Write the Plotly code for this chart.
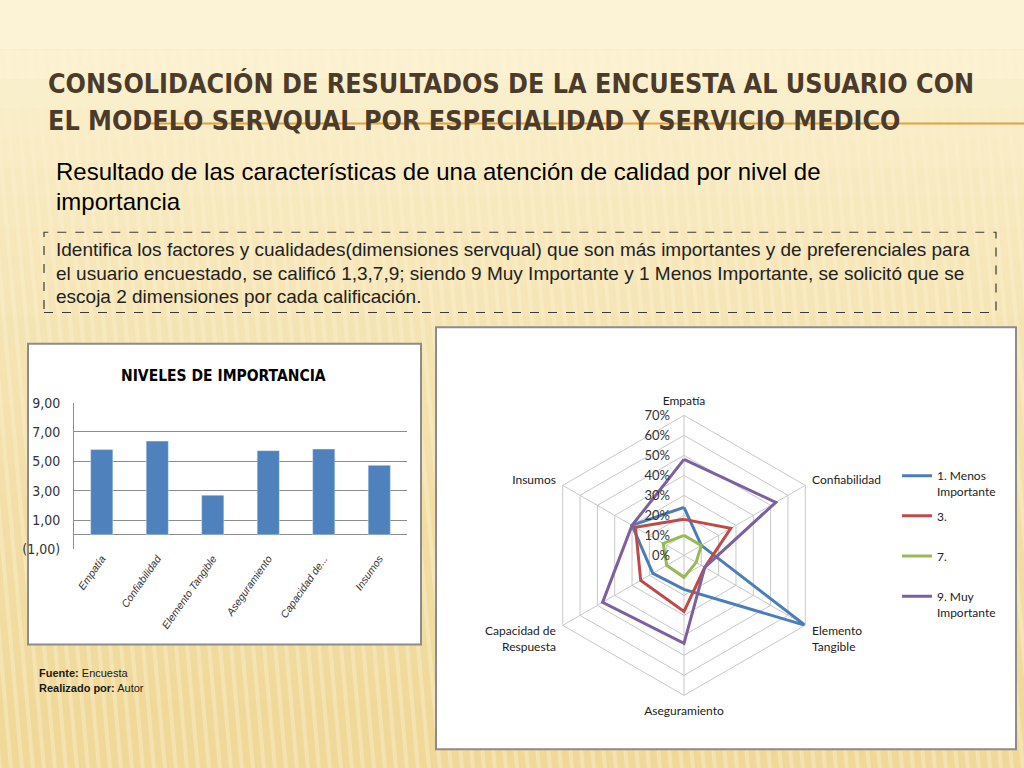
import plotly.graph_objects as go

# ---------------- data ----------------
bar_categories = ["Empatía", "Confiabilidad", "Elemento Tangible", "Aseguramiento", "Capacidad de...", "Insumos"]
bar_values = [5.80, 6.38, 2.70, 5.73, 5.84, 4.73]
bar_tickvals = [-1, 1, 3, 5, 7, 9]
bar_ticktext = ["(1,00)", "1,00", "3,00", "5,00", "7,00", "9,00"]

radar_categories = ["Empatía", "Confiabilidad", "Elemento<br>Tangible", "Aseguramiento",
                    "Capacidad de<br>Respuesta", "Insumos"]
serie_names = ["1. Menos<br>Importante", "3.<br> ", "7.<br> ", "9. Muy<br>Importante"]
serie_1 = [0.24, 0.10, 0.70, 0.17, 0.18, 0.30]
serie_3 = [0.18, 0.27, 0.12, 0.28, 0.25, 0.28]
serie_7 = [0.10, 0.10, 0.07, 0.11, 0.10, 0.12]
serie_9 = [0.48, 0.53, 0.12, 0.44, 0.47, 0.30]
radar_ticks = [0, 0.1, 0.2, 0.3, 0.4, 0.5, 0.6, 0.7]

W, H = 1024, 768
def px(x): return x / W
def py(y): return 1 - y / H

fig = go.Figure()

# ---------------- bar chart ----------------
fig.add_trace(go.Bar(
    x=bar_categories, y=bar_values, marker_color="#4f81bd", width=0.4,
    showlegend=False, xaxis="x", yaxis="y"))

# ---------------- radar chart ----------------
series = [serie_1, serie_3, serie_7, serie_9]
colors = ["#4a7ebb", "#be4b48", "#98b954", "#7d60a0"]
for i, (name, vals, col) in enumerate(zip(serie_names, series, colors)):
    fig.add_trace(go.Scatterpolar(
        r=vals + vals[:1], theta=radar_categories + radar_categories[:1],
        mode="lines", name=name, line=dict(color=col, width=3),
        legendgroup="g%d" % i, subplot="polar"))

# ---------------- background (decoration) ----------------
shapes = []
top_rgb = (252, 242, 210)
bot_rgb = (240, 216, 152)
steps = 24
shapes.append(dict(type="rect", xref="paper", yref="paper", x0=-0.05, x1=1.05,
                   y0=py(42), y1=py(-30), fillcolor="#fcf3d6", line_width=0, layer="below"))
for s in range(steps):
    y0 = 42 + (768 - 42) * s / steps
    y1 = 42 + (768 - 42) * (s + 1) / steps
    if s == steps - 1:
        y1 = 800
    t = (s / (steps - 1)) ** 0.7
    c = tuple(int(top_rgb[j] + (bot_rgb[j] - top_rgb[j]) * t) for j in range(3))
    shapes.append(dict(type="rect", xref="paper", yref="paper", x0=-0.05, x1=1.05,
                       y0=py(y1 + 1), y1=py(y0), fillcolor="rgb(%d,%d,%d)" % c,
                       line_width=0, layer="below"))
for k in range(-10, 110):
    x0 = k * 11
    shapes.append(dict(type="path", xref="paper", yref="paper",
                       path="M %f,%f L %f,%f L %f,%f L %f,%f Z" % (
                           px(x0), py(42), px(x0 + 4), py(42),
                           px(x0 + 4 + 66), py(800), px(x0 + 66), py(800)),
                       fillcolor="#fbf0cf", opacity=0.45, line_width=0, layer="below"))
shapes.append(dict(type="line", xref="paper", yref="paper", x0=px(150), x1=1,
                   y0=py(118), y1=py(118), line=dict(color="#e3a33c", width=2), layer="below"))
shapes.append(dict(type="rect", xref="paper", yref="paper", x0=px(44), x1=px(996),
                   y0=py(311), y1=py(229), line=dict(color="#3a3a3a", width=1.2, dash="dash"),
                   layer="below"))
shapes.append(dict(type="rect", xref="paper", yref="paper", x0=px(28), x1=px(421),
                   y0=py(650), y1=py(343), fillcolor="white",
                   line=dict(color="#8c8c8c", width=2), layer="below"))
shapes.append(dict(type="rect", xref="paper", yref="paper", x0=px(436), x1=px(1016),
                   y0=py(757), y1=py(326), fillcolor="white",
                   line=dict(color="#8c8c8c", width=2), layer="below"))

cond = "DejaVu Sans Condensed, Liberation Sans, Arial, sans-serif"
sans = "Liberation Sans, Arial, sans-serif"
annotations = [
    dict(text="CONSOLIDACIÓN DE RESULTADOS DE LA ENCUESTA AL USUARIO CON",
         x=px(46), y=py(77), xanchor="left", yanchor="middle",
         font=dict(family=cond, size=26.7, color="#4b3b2a", weight="bold")),
    dict(text="EL MODELO SERVQUAL POR ESPECIALIDAD Y SERVICIO MEDICO",
         x=px(46), y=py(115), xanchor="left", yanchor="middle",
         font=dict(family=cond, size=26.7, color="#4b3b2a", weight="bold")),
    dict(text="Resultado de las características de una atención de calidad por nivel de",
         x=px(54), y=py(167), xanchor="left", yanchor="middle",
         font=dict(family=sans, size=24, color="black")),
    dict(text="importancia",
         x=px(54), y=py(198), xanchor="left", yanchor="middle",
         font=dict(family=sans, size=24, color="black")),
    dict(text="Identifica los factores y cualidades(dimensiones servqual) que son más importantes y de preferenciales para",
         x=px(54), y=py(247), xanchor="left", yanchor="middle",
         font=dict(family=sans, size=19, color="#222222")),
    dict(text="el usuario encuestado, se calificó 1,3,7,9; siendo 9 Muy Importante y 1 Menos Importante, se solicitó que se",
         x=px(54), y=py(271), xanchor="left", yanchor="middle",
         font=dict(family=sans, size=19, color="#222222")),
    dict(text="escoja 2 dimensiones por cada calificación.",
         x=px(54), y=py(295), xanchor="left", yanchor="middle",
         font=dict(family=sans, size=19, color="#222222")),
    dict(text="NIVELES DE IMPORTANCIA",
         x=px(223), y=py(376), xanchor="center", yanchor="middle",
         font=dict(family=cond, size=15.5, color="black", weight="bold")),
    dict(text="<b>Fuente:</b> Encuesta",
         x=px(37), y=py(679), xanchor="left", yanchor="middle",
         font=dict(family=sans, size=11, color="#1a1a1a")),
    dict(text="<b>Realizado por:</b> Autor",
         x=px(37), y=py(694), xanchor="left", yanchor="middle",
         font=dict(family=sans, size=11, color="#1a1a1a")),
]
for a in annotations:
    a.update(xref="paper", yref="paper", showarrow=False)

calib = "Lato, Open Sans, sans-serif"
cx, cy, R = 684, 559, 143

fig.update_layout(
    width=W, height=H, margin=dict(l=0, r=0, t=0, b=0),
    paper_bgcolor="#f0d898", plot_bgcolor="rgba(0,0,0,0)",
    shapes=shapes, annotations=annotations,
    xaxis=dict(domain=[px(74), px(407)], anchor="y", showgrid=False,
               tickangle=-55, tickfont=dict(family=sans, size=10.5, color="#333333", style="italic"),
               showline=False, ticks=""),
    yaxis=dict(domain=[py(553), py(403)], anchor="x", range=[-1, 9],
               tickvals=bar_tickvals, ticktext=bar_ticktext,
               tickfont=dict(family=cond, size=14, color="#333333"),
               showgrid=True, gridcolor="#8c8c8c", gridwidth=1,
               zeroline=True, zerolinecolor="#8c8c8c", zerolinewidth=1,
               showline=True, linecolor="#8c8c8c",
               ticks="outside", ticklen=10, tickcolor="rgba(0,0,0,0)"),
    polar=dict(
        domain=dict(x=[px(cx - R), px(cx + R)], y=[py(cy + R), py(cy - R)]),
        bgcolor="white", gridshape="linear",
        radialaxis=dict(range=[0, 0.7], tickvals=radar_ticks, tickformat=".0%",
                        angle=90, tickangle=90, side="counterclockwise",
                        showline=False, gridcolor="#c8c8c8",
                        ticks="outside", ticklen=9, tickcolor="rgba(0,0,0,0)",
                        tickfont=dict(family=calib, size=13, color="#333333")),
        angularaxis=dict(rotation=90, direction="clockwise", gridcolor="#c8c8c8",
                         showline=True, linecolor="#c8c8c8",
                         ticks="outside", ticklen=5, tickcolor="rgba(0,0,0,0)",
                         tickfont=dict(family=calib, size=12, color="#222222")),
    ),
    legend=dict(x=px(897), y=py(463), xanchor="left", yanchor="top",
                bgcolor="rgba(0,0,0,0)", tracegroupgap=6, valign="top",
                font=dict(family=calib, size=12, color="#222222"), itemwidth=30),
)

fig.write_html("out.html", config={"displayModeBar": False},
               post_script="document.body.style.margin='0';document.body.style.overflow='hidden';")
